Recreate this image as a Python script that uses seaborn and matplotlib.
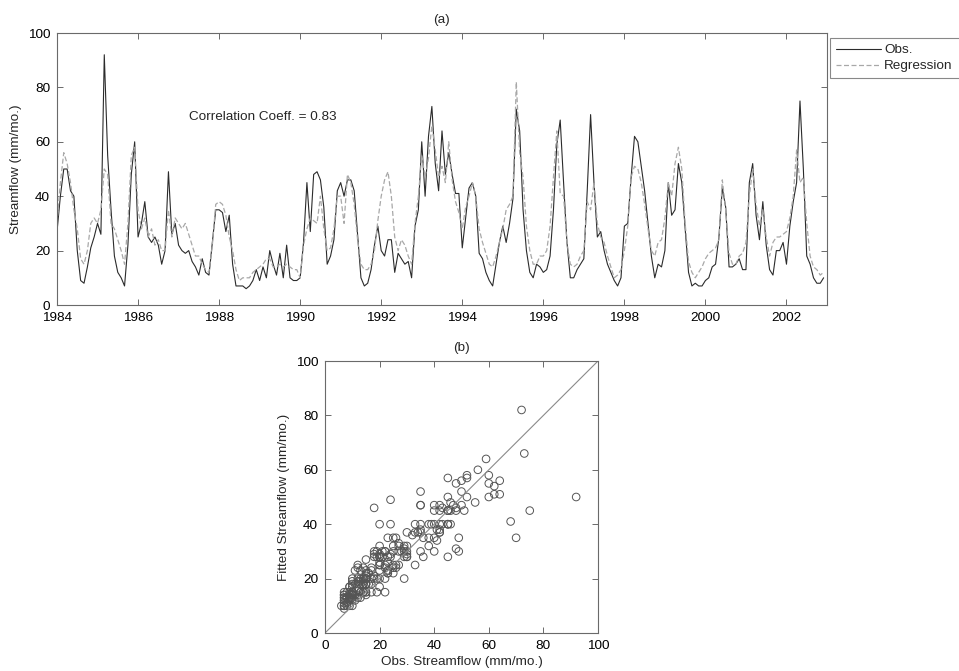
import matplotlib
matplotlib.use("Agg")
import matplotlib.pyplot as plt
import seaborn as sns
import pandas as pd
import numpy as np

# monthly streamflow (mm/mo.), Jan 1984 .. Dec 2002
obs = [
    27, 40, 50, 50, 42, 40, 20, 9, 8, 14, 21, 25,      # 1984
    30, 26, 92, 55, 35, 18, 12, 10, 7, 22, 48, 60,     # 1985
    25, 30, 38, 25, 23, 25, 22, 15, 20, 49, 26, 30,    # 1986
    22, 20, 19, 20, 16, 14, 11, 17, 12, 11, 23, 35,    # 1987
    35, 34, 27, 33, 15, 7, 7, 7, 6, 7, 9, 13,          # 1988
    9, 14, 10, 20, 15, 11, 19, 10, 22, 10, 9, 9,       # 1989
    10, 23, 45, 27, 48, 49, 46, 36, 15, 18, 24, 42,    # 1990
    45, 40, 46, 46, 42, 26, 10, 7, 8, 13, 22, 29,      # 1991
    20, 18, 24, 24, 12, 19, 17, 15, 16, 10, 29, 35,    # 1992
    60, 40, 62, 73, 52, 42, 64, 48, 56, 48, 41, 41,    # 1993
    21, 32, 43, 45, 40, 19, 17, 12, 9, 7, 15, 23,      # 1994
    29, 23, 30, 39, 72, 64, 35, 20, 12, 10, 15, 14,    # 1995
    12, 13, 18, 35, 59, 68, 45, 23, 10, 10, 13, 15,    # 1996
    17, 42, 70, 45, 25, 27, 20, 15, 12, 9, 7, 10,      # 1997
    29, 30, 47, 62, 60, 51, 42, 30, 18, 10, 15, 14,    # 1998
    20, 45, 33, 35, 52, 45, 28, 12, 7, 8, 7, 7,        # 1999
    9, 10, 14, 15, 25, 43, 36, 14, 14, 15, 17, 13,     # 2000
    13, 45, 52, 33, 24, 38, 22, 13, 11, 20, 20, 23,    # 2001
    15, 29, 38, 45, 75, 50, 18, 15, 10, 8, 8, 10,      # 2002
]
reg = [
    30, 45, 56, 52, 45, 35, 28, 17, 15, 20, 30, 32,
    30, 35, 50, 48, 30, 28, 24, 20, 15, 30, 55, 58,
    35, 28, 32, 25, 28, 22, 24, 20, 20, 35, 25, 32,
    30, 28, 30, 26, 22, 18, 18, 15, 13, 12, 22, 37,
    38, 37, 33, 25, 20, 13, 9, 10, 10, 10, 12, 13,
    14, 15, 17, 17, 14, 14, 15, 14, 15, 14, 13, 13,
    10, 22, 28, 32, 31, 30, 40, 28, 20, 21, 28, 40,
    40, 30, 48, 45, 37, 24, 15, 13, 13, 15, 20, 31,
    40, 46, 49, 40, 25, 20, 24, 22, 18, 15, 30, 40,
    55, 47, 54, 66, 57, 47, 51, 45, 60, 46, 38, 34,
    28, 36, 40, 45, 40, 28, 23, 19, 15, 14, 18, 23,
    28, 35, 37, 40, 82, 56, 47, 29, 20, 15, 15, 18,
    18, 20, 29, 47, 64, 41, 40, 23, 15, 14, 15, 18,
    20, 38, 35, 45, 30, 25, 23, 18, 14, 10, 11, 13,
    20, 29, 47, 51, 50, 45, 37, 28, 20, 18, 23, 24,
    32, 45, 40, 52, 58, 50, 30, 16, 12, 10, 12, 14,
    17, 19, 20, 21, 24, 46, 35, 19, 15, 15, 18, 19,
    23, 40, 50, 37, 29, 35, 25, 18, 23, 25, 25, 26,
    27, 32, 40, 57, 45, 47, 30, 18, 14, 13, 11, 12,
]
start_year = 1984
year_ticks = list(range(1984, 2003, 2))
flow_ticks = [0, 20, 40, 60, 80, 100]

df = pd.DataFrame({
    "year": start_year + np.arange(len(obs)) / 12.0,
    "obs": obs,
    "reg": reg,
})

sns.set_style("ticks")
plt.rcParams["font.family"] = ["Liberation Sans", "DejaVu Sans"]
plt.rcParams["font.size"] = 9.7
plt.rcParams["xtick.direction"] = "in"
plt.rcParams["ytick.direction"] = "in"

edge = "#6a6a6a"
W, H = 959, 671
fig = plt.figure(figsize=(W / 100, H / 100), dpi=100)

ax1 = fig.add_axes([57 / W, 1 - 305 / H, (827 - 57) / W, 272 / H])
sns.lineplot(data=df, x="year", y="obs", ax=ax1, color="#2b2b2b", lw=0.8, label="Obs.")
sns.lineplot(data=df, x="year", y="reg", ax=ax1, color="#a8a8a8", lw=0.9,
             linestyle=(0, (4, 2)), label="Regression")
ax1.set_xlim(1984, 2003)
ax1.set_ylim(0, 100)
ax1.set_xticks(year_ticks)
ax1.set_yticks(flow_ticks)
ax1.set_xlabel("")
ax1.set_ylabel("Streamflow (mm/mo.)")
ax1.set_title("(a)", fontsize=9.7, pad=7)
ax1.text(1987.25, 69, "Correlation Coeff. = 0.83", ha="left", va="center")
h, l = ax1.get_legend_handles_labels()
ax1.get_legend().remove()
# box runs past the right edge of the figure, as in the original
leg = fig.legend(h, l, loc="upper left", bbox_to_anchor=(830 / W, 1 - 38 / H, 150 / W, 0),
                 mode="expand", borderaxespad=0, frameon=True, fancybox=False,
                 handlelength=3.3, handletextpad=0.25, borderpad=0.45, labelspacing=0.25)
leg.get_frame().set_edgecolor(edge)
leg.get_frame().set_linewidth(0.8)

ax2 = fig.add_axes([325 / W, 1 - 633 / H, 273 / W, 272 / H])
ax2.plot([0, 100], [0, 100], color="#8a8a8a", lw=0.8)
sns.scatterplot(data=df, x="obs", y="reg", ax=ax2, s=30, facecolor="none",
                edgecolor="#555555", linewidth=0.7)
ax2.set_xlim(0, 100)
ax2.set_ylim(0, 100)
ax2.set_xticks(flow_ticks)
ax2.set_yticks(flow_ticks)
ax2.set_xlabel("Obs. Streamflow (mm/mo.)", labelpad=3)
ax2.set_ylabel("Fitted Streamflow (mm/mo.)")
ax2.set_title("(b)", fontsize=9.7, pad=7)

for ax in (ax1, ax2):
    for sp in ax.spines.values():
        sp.set_color(edge)
        sp.set_linewidth(0.8)
    ax.tick_params(top=True, right=True, length=4, width=0.7, color=edge,
                   labelcolor="black", pad=5)

fig.savefig("out.png", dpi=100)
